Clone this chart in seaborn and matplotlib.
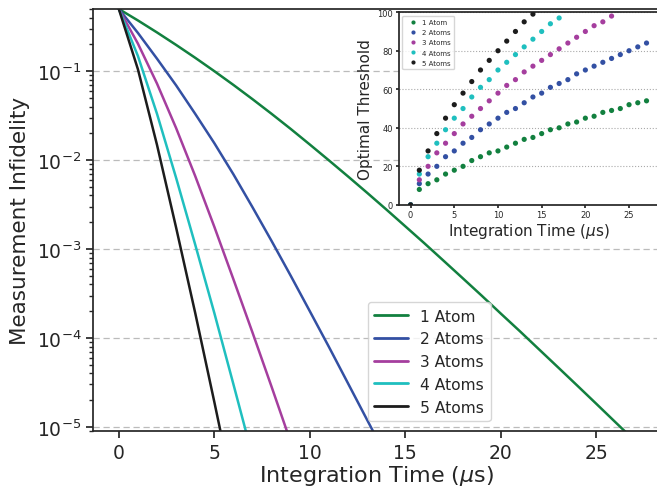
import numpy as np
import pandas as pd
import matplotlib
matplotlib.use("Agg")
import matplotlib.pyplot as plt
import seaborn as sns

# ---- main panel data: measurement infidelity vs integration time ----
t_main = list(range(0, 28))
atom_labels = ["1 Atom", "2 Atoms", "3 Atoms", "4 Atoms", "5 Atoms"]
infid_1 = [0.5, 0.3715, 0.2723, 0.1972, 0.1413, 0.100, 0.0700, 0.0484, 0.0331, 0.0224,
           0.01496, 9.93e-3, 6.55e-3, 4.29e-3, 2.79e-3, 1.80e-3, 1.16e-3, 7.40e-4,
           4.71e-4, 2.99e-4, 1.88e-4, 1.19e-4, 7.45e-5, 4.67e-5, 2.92e-5, 1.82e-5,
           1.13e-5, 7.03e-6]
infid_2 = [0.5, 0.269, 0.138, 0.0692, 0.0331, 0.0155, 6.92e-3, 2.95e-3, 1.23e-3,
           5.01e-4, 2.00e-4, 7.94e-5, 3.09e-5, 1.20e-5, 4.68e-6]
infid_3 = [0.5, 0.204, 0.0724, 0.0229, 6.61e-3, 1.78e-3, 4.57e-4, 1.15e-4, 2.82e-5,
           6.76e-6]
infid_4 = [0.5, 0.148, 0.0331, 6.31e-3, 1.12e-3, 1.91e-4, 3.02e-5, 4.68e-6]
infid_5 = [0.5, 0.105, 0.0148, 1.74e-3, 1.91e-4, 1.91e-5, 1.82e-6]

# ---- inset data: optimal threshold vs integration time ----
thr_1 = [0, 8, 11, 13, 16, 18, 20, 23, 25, 27, 28, 30, 32, 34, 35, 37, 39, 40, 42, 43,
         45, 46, 48, 49, 50, 52, 53, 54]
thr_2 = [0, 11, 16, 20, 25, 28, 32, 35, 39, 42, 45, 48, 50, 53, 56, 58, 61, 63, 65, 68,
         70, 72, 74, 76, 78, 80, 82, 84]
thr_3 = [0, 13, 20, 27, 32, 37, 42, 46, 50, 54, 58, 62, 65, 69, 72, 75, 78, 81, 84, 87,
         90, 93, 95, 98]
thr_4 = [0, 16, 25, 32, 39, 45, 50, 56, 61, 65, 70, 74, 78, 82, 86, 90, 94, 97]
thr_5 = [0, 18, 28, 37, 45, 52, 58, 64, 70, 75, 80, 85, 90, 95, 99]

colors = ["#12803f", "#3350a3", "#a53e9e", "#1fbfbf", "#1c1c1c"]

sns.set_theme(style="ticks")
plt.rcParams["font.family"] = ["DejaVu Sans"]

main_series = [infid_1, infid_2, infid_3, infid_4, infid_5]
rows = []
for lab, ys in zip(atom_labels, main_series):
    for i, y in enumerate(ys):
        rows.append({"t": t_main[i], "inf": y, "atoms": lab})
df_main = pd.DataFrame(rows)

thr_series = [thr_1, thr_2, thr_3, thr_4, thr_5]
rows = []
for lab, ys in zip(atom_labels, thr_series):
    for i, y in enumerate(ys):
        rows.append({"t": i, "thr": y, "atoms": lab})
df_thr = pd.DataFrame(rows)

fig = plt.figure(figsize=(6.57, 4.89), dpi=100)
ax = fig.add_axes([0.1416, 0.1166, 0.8634, 0.863])

sns.lineplot(data=df_main, x="t", y="inf", hue="atoms", hue_order=atom_labels,
             palette=colors, linewidth=1.8, ax=ax)
ax.set_yscale("log")
ax.set_ylim(9e-6, 0.5)
ax.set_xlim(-1.35, 28.35)
ax.set_xticks([0, 5, 10, 15, 20, 25])
ax.yaxis.grid(True, which="major", linestyle=(0, (5, 3)), color="#bbbbbb", linewidth=0.9)
ax.set_xlabel("Integration Time ($\\mu$s)", fontsize=16, labelpad=1)
ax.set_ylabel("Measurement Infidelity", fontsize=15.5, labelpad=5)
ax.tick_params(axis="both", which="major", labelsize=13.5, length=5)
ax.tick_params(axis="y", which="minor", length=3)
leg = ax.legend(loc="lower left", bbox_to_anchor=(0.484, 0.024), borderaxespad=0,
                fontsize=11.2, frameon=True, handlelength=2.2)
for line in leg.get_lines():
    line.set_linewidth(2)

# ---- inset ----
axi = fig.add_axes([0.607, 0.579, 0.395, 0.394])
sns.scatterplot(data=df_thr, x="t", y="thr", hue="atoms", hue_order=atom_labels,
                palette=colors, s=14, linewidth=0, ax=axi, zorder=3)
axi.set_xlim(-1.35, 28.35)
axi.set_ylim(0, 100)
axi.set_xticks([0, 5, 10, 15, 20, 25])
axi.set_yticks([0, 20, 40, 60, 80, 100])
axi.yaxis.grid(True, linestyle=":", color="#aaaaaa", linewidth=0.8)
axi.set_xlabel("Integration Time ($\\mu$s)", fontsize=11)
axi.set_ylabel("Optimal Threshold", fontsize=11)
axi.tick_params(axis="both", labelsize=6, length=2.5, pad=1.5)
axi.xaxis.labelpad = 1
axi.yaxis.labelpad = 3
axi.legend(loc="upper left", fontsize=5, markerscale=0.8, frameon=True,
           handletextpad=0.3, borderpad=0.5, labelspacing=0.6)

fig.savefig("out.png", dpi=100)
